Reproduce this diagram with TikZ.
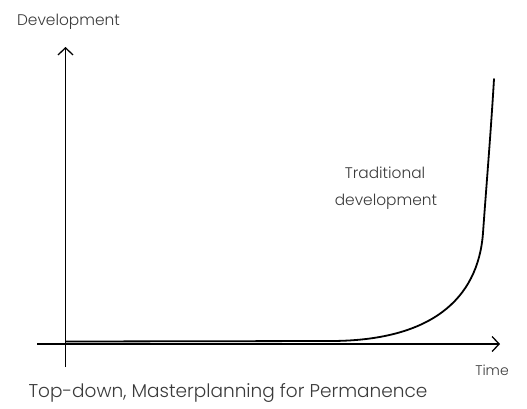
\documentclass[tikz,border=0pt]{standalone}
\usepackage{fontspec}
\setmainfont{Poppins}[UprightFont={* Light}]
\usetikzlibrary{arrows.meta}
\definecolor{txt}{HTML}{3A3A3A}
\tikzset{
  axis/.style={line width=1.3pt, -{Straight Barb[length=7pt,width=15pt,line width=1.3pt]}},
  curveline/.style={line width=1.8pt, line cap=round},
  lbl/.style={text=txt, font=\fontsize{15.4}{18}\selectfont, inner sep=0pt},
}
\begin{document}
\begin{tikzpicture}[x=1pt,y=-1pt]
\useasboundingbox (0,0) rectangle (527,408);
\coordinate (ybot) at (65.5,367);
\coordinate (ytop) at (65.5,47);
\coordinate (xleft) at (37,344);
\coordinate (xright) at (500,344);
\coordinate (c0) at (66,341.5);
\coordinate (c1) at (330,341);
\coordinate (c2) at (483,233);
\coordinate (c3) at (494,79);
\draw[axis] (ybot) -- (ytop);
\draw[axis] (xleft) -- (xright);
\draw[curveline] (c0) -- (c1) .. controls (430,341) and (478,300) .. (c2)
  .. controls (485.8,193) and (491,130) .. (c3);
\node[lbl, anchor=center] (ylab) at (68.5,22) {Development};
\node[lbl, anchor=center] (trad1) at (385,173) {Traditional};
\node[lbl, anchor=center] (trad2) at (386,202) {development};
\node[lbl, anchor=center, font=\fontsize{14}{17}\selectfont] (tlab) at (492,370) {Time};
\node[lbl, anchor=center, font=\fontsize{18.5}{22}\selectfont] (title) at (228,393) {Top-down, Masterplanning for Permanence};
\end{tikzpicture}
\end{document}
